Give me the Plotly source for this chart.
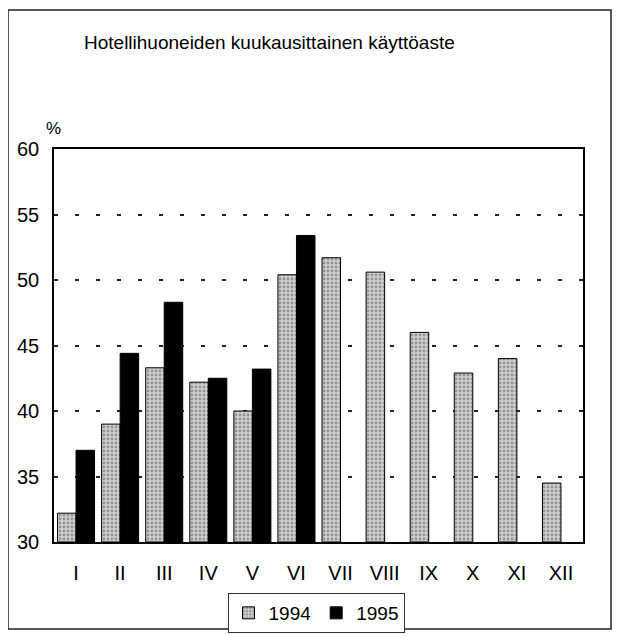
import plotly.graph_objects as go

months = ["I", "II", "III", "IV", "V", "VI", "VII", "VIII", "IX", "X", "XI", "XII"]
y1994 = [32.2, 39.0, 43.3, 42.2, 40.0, 50.4, 51.7, 50.6, 46.0, 42.9, 44.0, 34.5]
y1995 = [37.0, 44.4, 48.3, 42.5, 43.2, 53.4, None, None, None, None, None, None]
yticks = [30, 35, 40, 45, 50, 55, 60]

FONT = "Liberation Sans Narrow, Arial Narrow, Liberation Sans, sans-serif"

OFF = 8  # browser default body margin
W, H = 620 - OFF, 636 - OFF
L, R, T, B = 54 - OFF, 583 - OFF, 149 - OFF, 542 - OFF
def px(x):
    return (x - OFF - L) / (R - L)
def py(y):
    return (B - (y - OFF)) / (B - T)

fig = go.Figure()
fig.add_trace(go.Bar(
    x=months, y=[v - 30 for v in y1994], base=30, name="1994",
    marker=dict(color="#c8c8c8", line=dict(color="black", width=1),
                pattern=dict(shape=".", fgcolor="#5a5a5a", bgcolor="#cfcfcf", size=4, solidity=0.4)),
))
fig.add_trace(go.Bar(
    x=months, y=[None if v is None else v - 30 for v in y1995], base=30, name="1995",
    marker=dict(color="black", line=dict(color="black", width=1)),
))

fig.update_layout(
    width=W, height=H,
    margin=dict(l=L, r=W - R, t=T, b=H - B, autoexpand=False),
    paper_bgcolor="white", plot_bgcolor="white",
    barmode="group", bargap=0.16, bargroupgap=0,
    font=dict(family=FONT, size=19, color="black"),
    showlegend=True,
    legend=dict(orientation="h", x=px(316), xanchor="center", y=py(613), yanchor="middle",
                bordercolor="#333", borderwidth=1, font=dict(size=19),
                itemwidth=30, tracegroupgap=0),
    xaxis=dict(showgrid=False, ticks="", showline=True, linecolor="black", linewidth=1.5,
               mirror=True, tickfont=dict(size=20), ticklabelstandoff=12),
    yaxis=dict(range=[30, 60], tickvals=yticks, showgrid=True, gridcolor="#222",
               griddash="4px,17px", gridwidth=1.5, showline=True, linecolor="black",
               linewidth=1.5, mirror=True, ticks="", ticklabelstandoff=9,
               tickfont=dict(size=20), zeroline=False),
)

fig.add_annotation(text="Hotellihuoneiden kuukausittainen käyttöaste", xref="paper", yref="paper",
                   x=px(269), y=py(43), xanchor="center", yanchor="middle", showarrow=False,
                   font=dict(size=19, family=FONT))
fig.add_annotation(text="%", xref="paper", yref="paper", x=px(53), y=py(128),
                   xanchor="center", yanchor="middle", showarrow=False, font=dict(size=17, family=FONT))

fig.add_shape(type="rect", xref="paper", yref="paper",
              x0=px(8), x1=px(611), y0=py(629), y1=py(10),
              line=dict(color="#222", width=1.5), layer="below")

fig.write_html("out.html")
